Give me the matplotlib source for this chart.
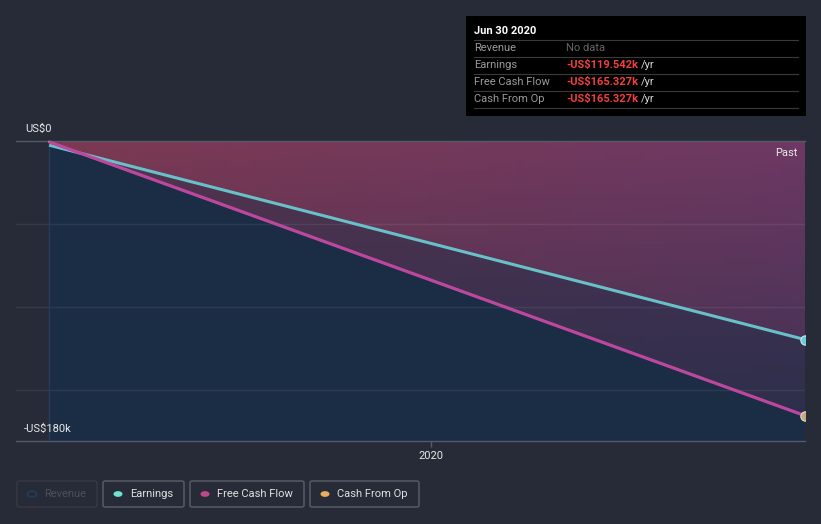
import numpy as np
import matplotlib.pyplot as plt
import matplotlib.dates as mdates
from matplotlib.patches import Rectangle, FancyBboxPatch, Circle
from matplotlib.path import Path
from matplotlib.patches import PathPatch
import datetime as dt

# data (US$ thousands)
dates = [dt.date(2019, 6, 30), dt.date(2020, 6, 30)]
earnings = [-2.5, -119.542]
free_cash_flow = [-0.5, -165.327]
cash_from_op = [-0.5, -165.327]

legend_names = ["Revenue", "Earnings", "Free Cash Flow", "Cash From Op"]
tooltip_rows = [("Revenue", "No data"),
                ("Earnings", "-US$119.542k"),
                ("Free Cash Flow", "-US$165.327k"),
                ("Cash From Op", "-US$165.327k")]

BG = "#262b37"
BLUE = "#1b2c45"
TEAL = "#68c1c8"
PINK = "#bd479f"
ORANGE = "#e4ac5b"

W, H = 821, 524
plt.rcParams['font.family'] = ['Roboto', 'DejaVu Sans']

fig = plt.figure(figsize=(W / 100, H / 100), dpi=100, facecolor=BG)


def fx(x):
    return x / W


def fy(y):
    return 1 - y / H


ax = fig.add_axes([fx(16), fy(441), fx(805) - fx(16), (441 - 141) / H])
ax.set_facecolor(BG)
for s in ax.spines.values():
    s.set_visible(False)

xd = mdates.date2num(dates)
ymin, ymax = -180.6, 0.0
ax.set_xlim(mdates.date2num(dt.date(2019, 6, 14)), xd[-1])
ax.set_ylim(ymin, ymax)

# blue base area
ax.fill_between(xd, ymin, ymax, color=BLUE, lw=0, zorder=1)

# red gradient fills between each line and zero (red on the left, purple on the right)
gy = np.linspace(0, 1, 128).reshape(-1, 1)
gx = np.linspace(0, 1, 128).reshape(1, -1)
for series in (earnings, free_cash_flow):
    img = np.zeros((128, 128, 4))
    img[..., 0] = 0.76 - 0.10 * gx
    img[..., 1] = 0.26 + 0.0 * gy
    img[..., 2] = 0.36 + 0.12 * gx
    img[..., 3] = 0.36 - 0.25 * gy + 0.0 * gx
    verts = [(xd[0], 0), (xd[1], 0), (xd[1], series[1]), (xd[0], series[0]), (xd[0], 0)]
    clip = PathPatch(Path(verts), transform=ax.transData, facecolor='none', edgecolor='none')
    ax.add_patch(clip)
    im = ax.imshow(img, extent=[xd[0], xd[1], ymin, ymax], origin='upper',
                   aspect='auto', zorder=2, interpolation='bilinear')
    im.set_clip_path(clip)

# grid
for g in (-50, -100, -150):
    ax.axhline(g, color='white', alpha=0.07, lw=1, zorder=3)
ax.axhline(0, color='#555b66', lw=1, zorder=3, clip_on=False)
ax.axhline(ymin, color='#555b66', lw=1, zorder=3, clip_on=False)
ax.axvline(xd[0], color='#2a3a58', lw=1, zorder=3)

# lines
ax.plot(xd, cash_from_op, color=ORANGE, lw=1.2, zorder=4, clip_on=False)
ax.plot(xd, earnings, color=TEAL, lw=2.2, zorder=5, clip_on=False, solid_capstyle='butt')
ax.plot(xd, free_cash_flow, color=PINK, lw=2.3, zorder=5, clip_on=False, solid_capstyle='butt')
ax.scatter([xd[-1]], [earnings[-1]], s=45, color='#5fd0e0', edgecolor='#e0e0e0', lw=0.8, zorder=6)
ax.scatter([xd[-1]], [cash_from_op[-1]], s=45, color='#c8a878', edgecolor='#e0e0e0', lw=0.8, zorder=6)

ax.set_xticks([mdates.date2num(dt.date(2020, 1, 1))])
ax.set_xticklabels(["2020"])
ax.tick_params(axis='x', colors='#555b66', length=4, width=1, labelcolor='#e8e8e8', labelsize=8, pad=3)
ax.set_yticks([])

fig.text(fx(25), fy(129), "US$0", color='#e8e8e8', fontsize=8, va='center', ha='left')
fig.text(fx(24), fy(429), "-US$180k", color='#e8e8e8', fontsize=8, va='center', ha='left')
fig.text(fx(797), fy(153), "Past", color='#e8e8e8', fontsize=8, va='center', ha='right')

# tooltip
fig.patches.append(Rectangle((fx(466), fy(116)), fx(806) - fx(466), (116 - 16) / H,
                             transform=fig.transFigure, facecolor='black', edgecolor='none'))
fig.text(fx(474), fy(31), "Jun 30 2020", color='white', fontsize=8, fontweight='bold', va='center')
renderer = fig.canvas.get_renderer()
for i, (name, val) in enumerate(tooltip_rows):
    yline = 40 + 17 * i
    fig.add_artist(plt.Line2D([fx(474), fx(798)], [fy(yline), fy(yline)], color='#3a3a3a', lw=0.8))
    yt = 48 + 17 * i
    fig.text(fx(474), fy(yt), name, color='#9a9a9a', fontsize=8, va='center')
    if val == "No data":
        fig.text(fx(566), fy(yt), val, color='#666666', fontsize=8, va='center')
    else:
        t = fig.text(fx(566), fy(yt), val, color='#f0403e', fontsize=8, fontweight='bold', va='center')
        ext = t.get_window_extent(renderer)
        fig.text(ext.x1 / W + fx(3), fy(yt), "/yr", color='#d8d8d8', fontsize=8, va='center')
fig.add_artist(plt.Line2D([fx(474), fx(798)], [fy(108), fy(108)], color='#3a3a3a', lw=0.8))

# legend boxes
boxes = [(17, 97), (103, 184), (190, 304), (310, 419)]
dot_colors = [None, "#6fe3d4", "#c2468b", "#e8ae5c"]
for (x0, x1), name, dc in zip(boxes, legend_names, dot_colors):
    dim = dc is None
    fig.patches.append(FancyBboxPatch((fx(x0), fy(507)), fx(x1) - fx(x0), 26 / H,
                                      boxstyle="round,pad=0,rounding_size=0.003",
                                      transform=fig.transFigure, facecolor='none',
                                      edgecolor='#353a45' if dim else '#5a5f6a', lw=1))
    cx = x0 + 15
    if dim:
        fig.patches.append(Circle((fx(cx), fy(494)), 4.5 / W, transform=fig.transFigure,
                                  facecolor='none', edgecolor='#1f3d5e', lw=1.2))
    else:
        fig.patches.append(Circle((fx(cx), fy(494)), 4.5 / W, transform=fig.transFigure,
                                  facecolor=dc, edgecolor='none'))
    fig.text(fx(cx + 12), fy(494), name, color='#4a505c' if dim else '#e0e0e0',
             fontsize=8, va='center')

fig.savefig("out.png", dpi=100, facecolor=BG)
